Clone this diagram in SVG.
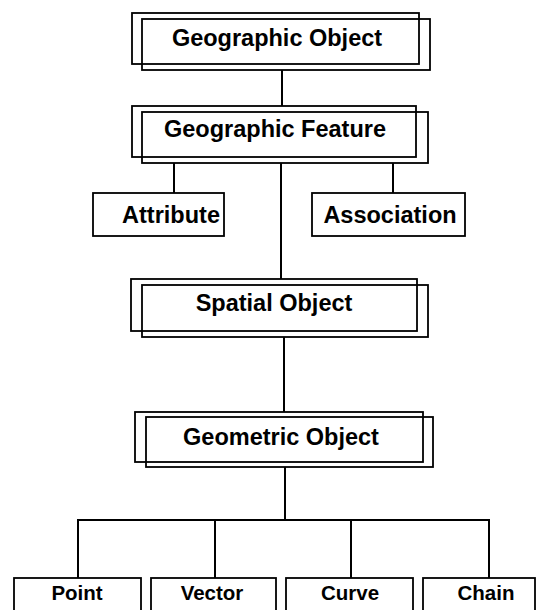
<svg xmlns="http://www.w3.org/2000/svg" width="541" height="610" viewBox="0 0 541 610">
<style>
.b{fill:none;stroke:#000;stroke-width:1.8}
.w{fill:#fff;stroke:#000;stroke-width:1.8}
.c{fill:none;stroke:#000;stroke-width:2}
text{font-family:"Liberation Sans",Arial,sans-serif;font-weight:bold;fill:#000;text-anchor:middle}
.t{font-size:23.5px}
.s{font-size:20.5px}
</style>
<rect width="541" height="610" fill="#fff"/>
<g id="connectors">
<line class="c" x1="282" y1="70" x2="282" y2="106"/>
<line class="c" x1="174" y1="163" x2="174" y2="193"/>
<line class="c" x1="393" y1="163" x2="393" y2="193"/>
<line class="c" x1="281" y1="163" x2="281" y2="279"/>
<line class="c" x1="284" y1="337" x2="284" y2="412"/>
<line class="c" x1="285" y1="467" x2="285" y2="520"/>
<line class="c" x1="77" y1="520" x2="490" y2="520"/>
<line class="c" x1="78" y1="520" x2="78" y2="578"/>
<line class="c" x1="215" y1="520" x2="215" y2="578"/>
<line class="c" x1="351" y1="520" x2="351" y2="578"/>
<line class="c" x1="489" y1="520" x2="489" y2="578"/>
</g>
<g id="geographic-object">
<rect class="b" x="132" y="13" width="287" height="51"/>
<rect class="b" x="142" y="19" width="288" height="51"/>
<text class="t" x="277" y="46">Geographic Object</text>
</g>
<g id="geographic-feature">
<rect class="b" x="132" y="106" width="284" height="51"/>
<rect class="b" x="142" y="112" width="286" height="51"/>
<text class="t" x="275" y="137">Geographic Feature</text>
</g>
<g id="attribute">
<rect class="w" x="93" y="193" width="131" height="43"/>
<text class="t" x="171" y="223">Attribute</text>
</g>
<g id="association">
<rect class="w" x="312" y="193" width="153" height="43"/>
<text class="t" x="390" y="223">Association</text>
</g>
<g id="spatial-object">
<rect class="b" x="131" y="279" width="286" height="52"/>
<rect class="b" x="142" y="285" width="286" height="52"/>
<text class="t" x="274" y="311">Spatial Object</text>
</g>
<g id="geometric-object">
<rect class="b" x="135" y="412" width="288" height="50"/>
<rect class="b" x="146" y="417" width="287" height="50"/>
<text class="t" x="281" y="445">Geometric Object</text>
</g>
<g id="point">
<rect class="w" x="14" y="578" width="127" height="40"/>
<text class="s" x="77" y="600">Point</text>
</g>
<g id="vector">
<rect class="w" x="151" y="578" width="125" height="40"/>
<text class="s" x="212" y="600">Vector</text>
</g>
<g id="curve">
<rect class="w" x="286" y="578" width="127" height="40"/>
<text class="s" x="350" y="600">Curve</text>
</g>
<g id="chain">
<rect class="w" x="423" y="578" width="112" height="40"/>
<text class="s" x="486" y="600">Chain</text>
</g>
</svg>
